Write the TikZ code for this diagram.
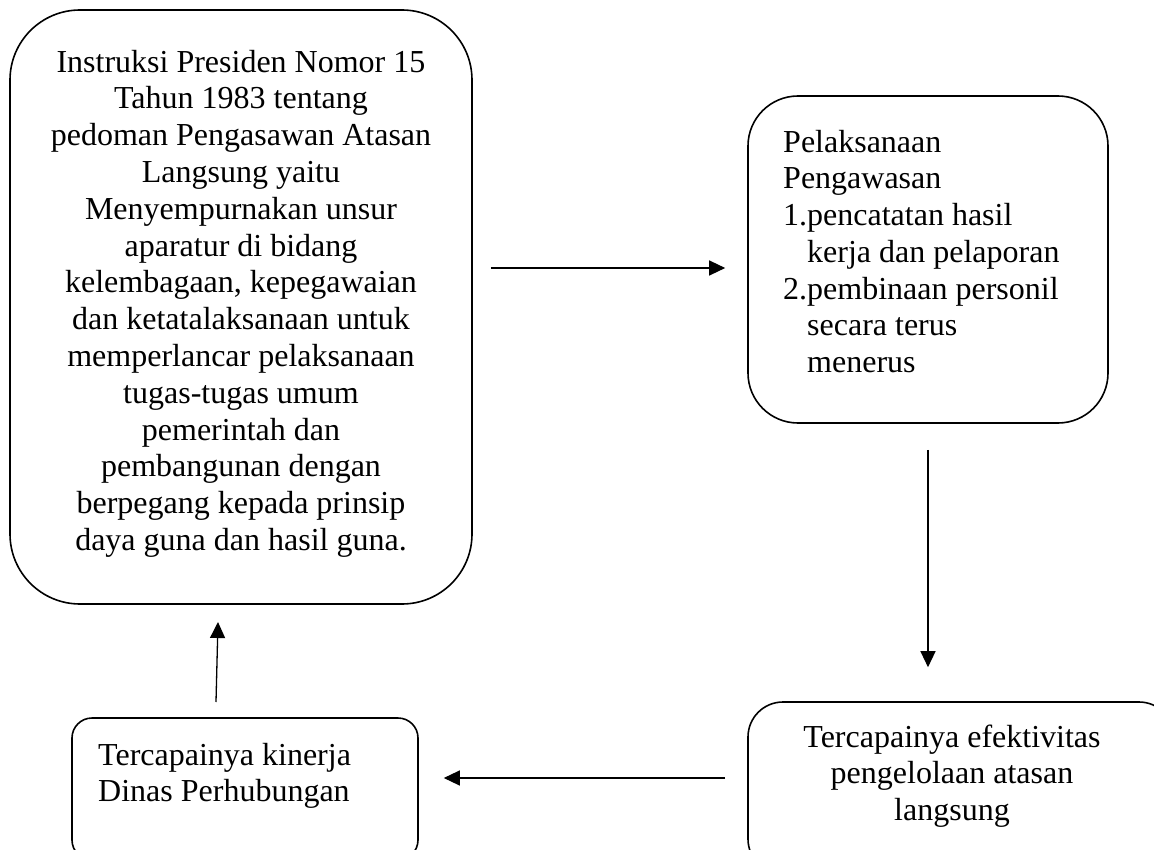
\documentclass[tikz,border=0pt]{standalone}
\usepackage{fontspec}
\setmainfont{Liberation Serif}
\usetikzlibrary{arrows.meta}
\tikzset{
  box/.style={draw=black, line width=1.6pt, rectangle, inner sep=0pt},
  txt/.style={inner sep=0pt, font=\fontsize{32}{36.8}\selectfont},
  arr/.style={draw=black, line width=1.3pt, -{Triangle[length=16pt,width=15pt]}}
}
\begin{document}
\begin{tikzpicture}[x=1pt,y=-1pt]
\useasboundingbox (0,0) rectangle (1154,850);
% boxes
\node[box, rounded corners=70pt, minimum width=462pt, minimum height=594pt] (b1) at (241,307) {};
\node[box, rounded corners=50pt, minimum width=360pt, minimum height=327pt] (b2) at (928,259.5) {};
\node[box, rounded corners=20pt, minimum width=346pt, minimum height=142pt] (b3) at (245,789) {};
\node[box, rounded corners=35pt, minimum width=426pt, minimum height=172pt] (b4) at (961,788) {};
% texts (base anchor = baseline of the last line)
\node[txt, align=center, anchor=base] (t1) at (241,550.4) {Instruksi Presiden Nomor 15\\Tahun 1983 tentang\\pedoman Pengasawan Atasan\\Langsung yaitu\\Menyempurnakan unsur\\aparatur di bidang\\kelembagaan, kepegawaian\\dan ketatalaksanaan untuk\\memperlancar pelaksanaan\\tugas-tugas umum\\pemerintah dan\\pembangunan dengan\\berpegang kepada prinsip\\daya guna dan hasil guna.};
\node[txt, align=left, anchor=base west] (t2) at (783,372.8) {Pelaksanaan\\Pengawasan\\1.pencatatan hasil\\\hspace*{24pt}kerja dan pelaporan\\2.pembinaan personil\\\hspace*{24pt}secara terus\\\hspace*{24pt}menerus};
\node[txt, align=left, anchor=base west] (t3) at (98,801.8) {Tercapainya kinerja\\Dinas Perhubungan};
\node[txt, align=center, anchor=base] (t4) at (952,820.6) {Tercapainya efektivitas\\pengelolaan atasan\\langsung};
% connector end points
\coordinate (a1s) at ([xshift=18pt]b1.east |- 0,268);
\coordinate (a1e) at ([xshift=-22pt]b2.west |- 0,268);
\coordinate (a2s) at ([yshift=-26pt]b2.south);
\coordinate (a2e) at ([yshift=34pt]b4.north -| b2.south);
\coordinate (a3s) at ([xshift=-22pt]b4.west |- 0,778);
\coordinate (a3e) at ([xshift=25pt]b3.east |- 0,778);
\coordinate (a4s) at (216,702);
\coordinate (a4e) at (218,622);
\draw[arr] (a1s) -- (a1e);
\draw[arr] (a2s) -- (a2e);
\draw[arr] (a3s) -- (a3e);
\draw[arr] (a4s) -- (a4e);
\end{tikzpicture}
\end{document}
